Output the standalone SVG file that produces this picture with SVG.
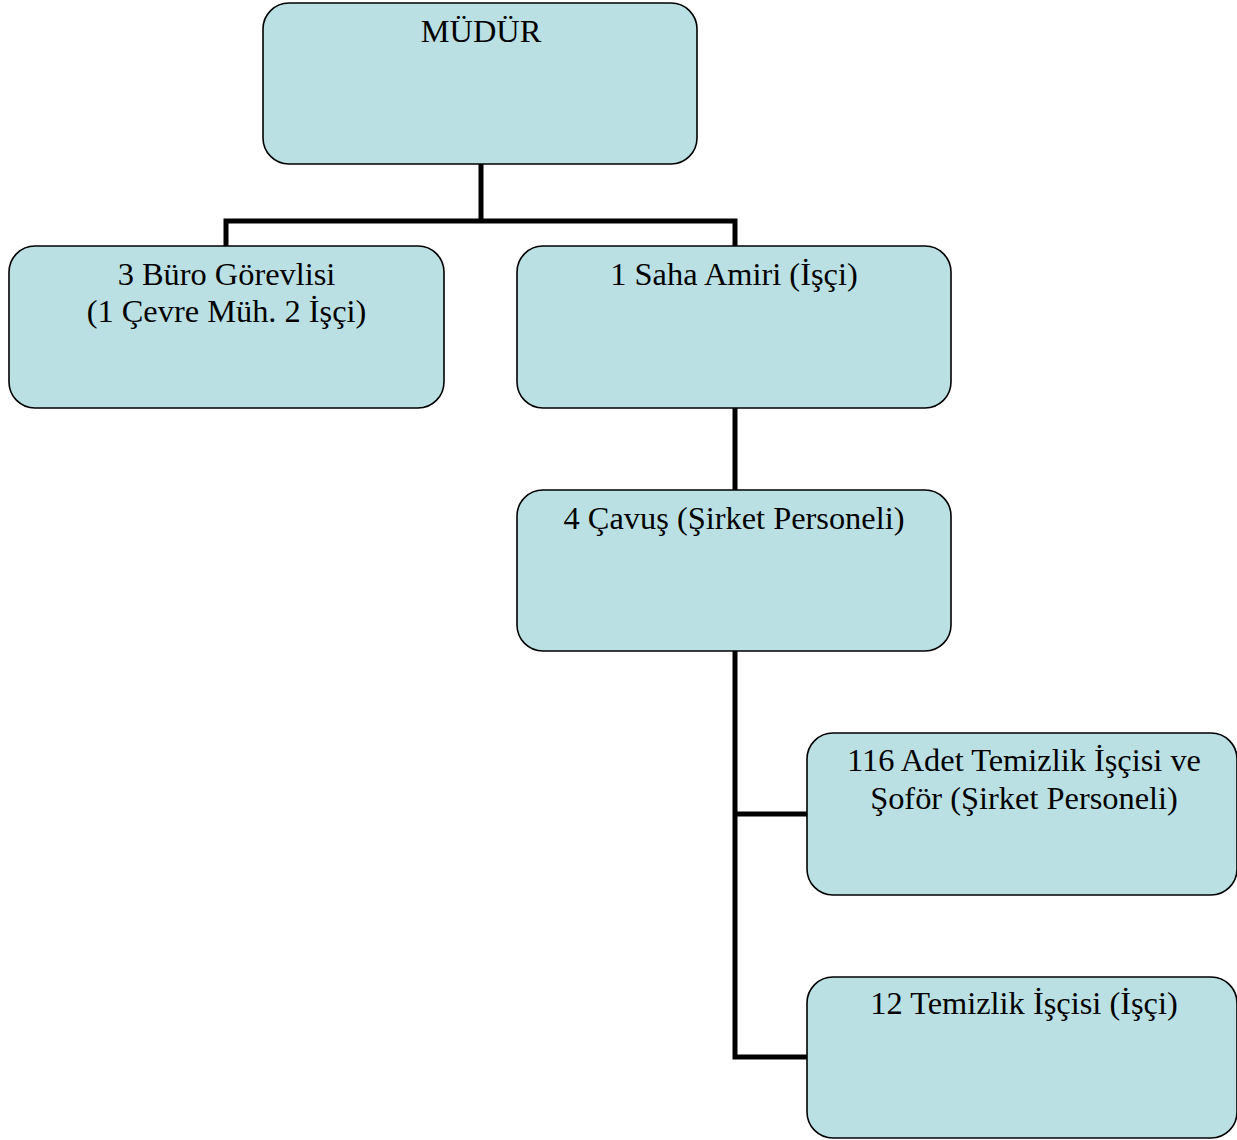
<svg xmlns="http://www.w3.org/2000/svg" width="1237" height="1140" viewBox="0 0 1237 1140">
<style>
.box{fill:#BAE0E3;stroke:#000;stroke-width:1.6}
.lbl{font-family:"Liberation Serif","Times New Roman",serif;font-size:32.4px;fill:#000;text-anchor:middle}
.conn{fill:none;stroke:#000;stroke-width:5;stroke-linejoin:miter;stroke-linecap:butt}
</style>
<rect width="1237" height="1140" fill="#fff"/>
<g id="connectors">
<path class="conn" d="M481 164V221M226 246V221H735V246"/>
<path class="conn" d="M735 408V490"/>
<path class="conn" d="M735 651V1057H807M735 814H807"/>
</g>
<g id="mudur">
<rect class="box" x="263" y="3" width="434" height="161" rx="26"/>
<text class="lbl" x="481" y="42">MÜDÜR</text>
</g>
<g id="buro">
<rect class="box" x="9" y="246" width="435" height="162" rx="26"/>
<text class="lbl" x="226.5" y="285">3 Büro Görevlisi</text>
<text class="lbl" x="226.5" y="322">(1 Çevre Müh. 2 İşçi)</text>
</g>
<g id="saha">
<rect class="box" x="517" y="246" width="434" height="162" rx="26"/>
<text class="lbl" x="734" y="285">1 Saha Amiri (İşçi)</text>
</g>
<g id="cavus">
<rect class="box" x="517" y="490" width="434" height="161" rx="26"/>
<text class="lbl" x="734" y="529">4 Çavuş (Şirket Personeli)</text>
</g>
<g id="temizlik116">
<rect class="box" x="807" y="733" width="430" height="162" rx="26"/>
<text class="lbl" x="1024" y="771">116 Adet Temizlik İşçisi ve</text>
<text class="lbl" x="1024" y="809">Şoför (Şirket Personeli)</text>
</g>
<g id="temizlik12">
<rect class="box" x="807" y="977" width="430" height="161" rx="26"/>
<text class="lbl" x="1024" y="1014">12 Temizlik İşçisi (İşçi)</text>
</g>
</svg>
